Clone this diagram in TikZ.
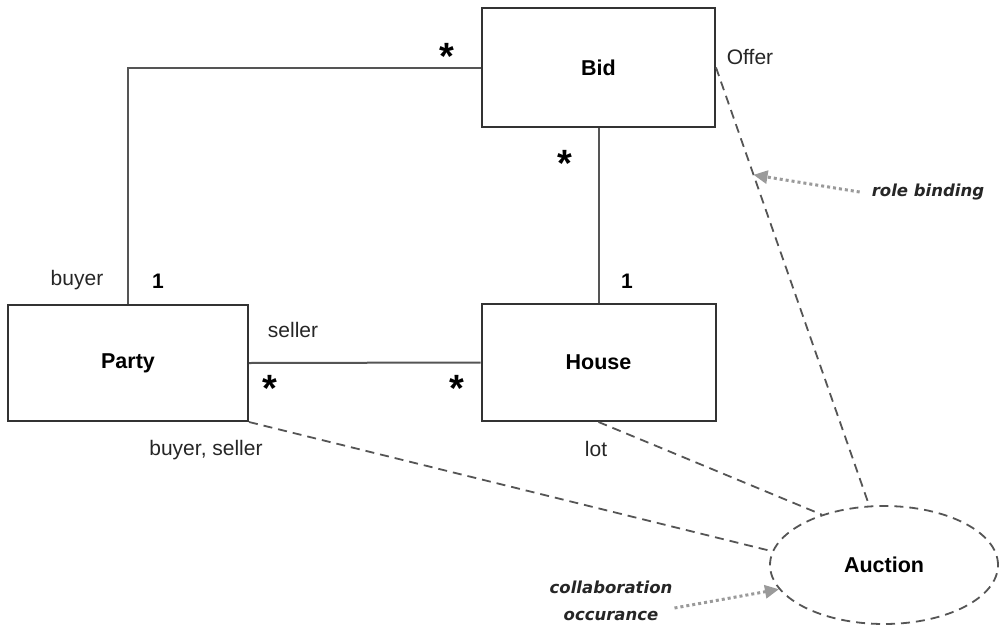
\documentclass[tikz,border=0pt]{standalone}
\usepackage{fontspec}
\setmainfont{Liberation Sans}
\newfontfamily\notefont{DejaVu Sans}
\usetikzlibrary{shapes.geometric,calc,arrows.meta}
\definecolor{boxc}{HTML}{333333}
\definecolor{linec}{HTML}{555555}
\definecolor{notec}{HTML}{9A9A9A}
\begin{document}
\begin{tikzpicture}[x=1pt,y=-1pt,
 cls/.style={draw=boxc,line width=2pt,inner sep=0pt,font=\fontsize{21.5}{25}\selectfont\bfseries},
 lbl/.style={font=\fontsize{21}{25}\selectfont,inner sep=0pt,text=black!85},
 mult/.style={font=\fontsize{38}{38}\selectfont\bfseries,inner sep=0pt,anchor=base},
 one/.style={font=\fontsize{21}{25}\selectfont\bfseries,inner sep=0pt},
 assoc/.style={draw=linec,line width=2pt},
 bind/.style={draw=linec,line width=1.8pt,dash pattern=on 9pt off 6pt},
 note/.style={font=\notefont\fontsize{16.5}{27}\selectfont\bfseries\itshape,inner sep=0pt,align=center,text=black!85},
 notearrow/.style={draw=notec,line width=3pt,dash pattern=on 3pt off 3pt,-{Triangle[length=14pt,width=13pt]}}
]
\useasboundingbox[fill=white] (0,0) rectangle (1000,626);

\node[cls,minimum width=233pt,minimum height=119pt] (Bid) at (598.5,67.5) {Bid};
\node[cls,minimum width=240pt,minimum height=116pt] (Party) at (128,363) {Party};
\node[cls,minimum width=234pt,minimum height=117pt] (House) at (598.5,362.5) {House};
\node[ellipse,draw=linec,line width=1.8pt,dash pattern=on 9pt off 6pt,minimum width=228pt,minimum height=118pt,inner sep=0pt,font=\fontsize{21.5}{25}\selectfont\bfseries] (Auction) at (884,565) {Auction};

% associations
\draw[assoc] (Party.north) |- (Bid.west);
\draw[assoc] (Bid.south) -- (House.north);
\draw[assoc] (Party.east) -- (House.west);

% role bindings
\draw[bind] (Bid.east) -- (Auction.104);
\draw[bind] (House.south) -- (Auction.141);
\draw[bind] (Party.south east) -- (Auction.173);

% labels
\node[lbl] (offer) at (750,57) {Offer};
\node[lbl] (buyer) at (77,280) {buyer};
\node[lbl] (seller) at (293,330) {seller};
\node[lbl] (bs) at (206,450) {buyer, seller};
\node[lbl] (lot) at (596,449) {lot};
\node[one] (one1) at (158,281) {1};
\node[one] (one2) at (627,281) {1};
\node[mult] (m1) at (447,70) {*};
\node[mult] (m2) at (565,176) {*};
\node[mult] (m3) at (270,401) {*};
\node[mult] (m4) at (457,401) {*};

% annotations
\node[note] (rb) at (928,192) {role binding};
\node[note] (co) at (611,601) {collaboration\\occurance};
\coordinate (rbtip) at ($(Bid.east)!0.245!(Auction.104)$);
\draw[notearrow] ($(rb.west)+(-12,0)$) -- (rbtip);
\draw[notearrow] ($(co.east)+(2,7)$) -- (Auction.193);
\end{tikzpicture}
\end{document}
